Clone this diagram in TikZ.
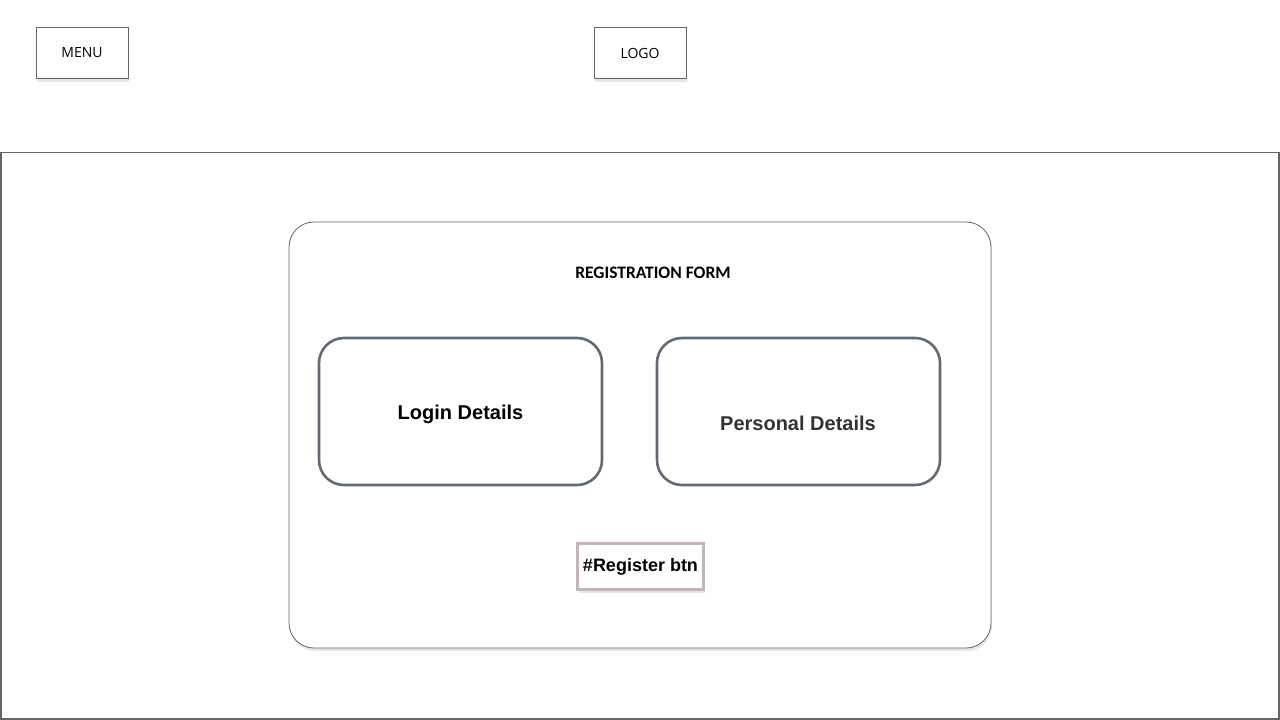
\documentclass[tikz,border=0pt]{standalone}
\usepackage{fontspec}
\setmainfont{Liberation Sans}
\newfontfamily\uifont{Open Sans}
\newfontfamily\calfont{Carlito}
\usetikzlibrary{shadows}
\definecolor{framegray}{HTML}{666666}
\definecolor{boxgray}{HTML}{646A73}
\definecolor{btngray}{HTML}{C2B6B6}
\definecolor{darktext}{HTML}{333333}
\tikzstyle{softshadow}=[drop shadow={shadow xshift=1pt,shadow yshift=-3pt,opacity=0.2}]
\tikzstyle{topbox}=[draw=framegray,fill=white,line width=0.8pt,minimum width=92pt,minimum height=51pt,inner sep=0pt,softshadow,font=\uifont\fontsize{14}{16}\selectfont]
\tikzstyle{detbox}=[draw=boxgray,line width=2.6pt,rounded corners=25pt,minimum width=283pt,minimum height=147pt,inner sep=0pt]
\tikzstyle{dettext}=[font=\bfseries\fontsize{20}{22}\selectfont]
\begin{document}
\begin{tikzpicture}[x=1pt,y=-1pt]
\useasboundingbox (0,0) rectangle (1280,720);
\fill[white] (0,0) rectangle (1280,720);
\draw (82,53)node[topbox] (menu) {MENU};
\draw (640,53)node[topbox] (logo) {LOGO};
\draw[framegray,line width=1.8pt] (1,152.5) rectangle (1279,719);
\draw (640,435)node[draw=framegray,fill=white,line width=0.8pt,rounded corners=25pt,minimum width=702pt,minimum height=426pt,inner sep=0pt,softshadow] (form) {};
\draw (653,272.5)node[font=\calfont\bfseries\fontsize{17.5}{19}\selectfont] (title) {REGISTRATION FORM};
\draw (460.5,411.5)node[detbox] (login) {};
\draw (460.5,414.5)node[dettext] (logintext) {Login Details};
\draw (798.5,411.5)node[detbox] (pers) {};
\draw (798,423.5)node[dettext,text=darktext] (perstext) {Personal Details};
\draw (640.5,566.5)node[draw=btngray,fill=white,line width=2.6pt,minimum width=126pt,minimum height=46pt,inner sep=0pt,softshadow,font=\bfseries\fontsize{18}{20}\selectfont] (register) {\#Register btn};
\end{tikzpicture}
\end{document}
